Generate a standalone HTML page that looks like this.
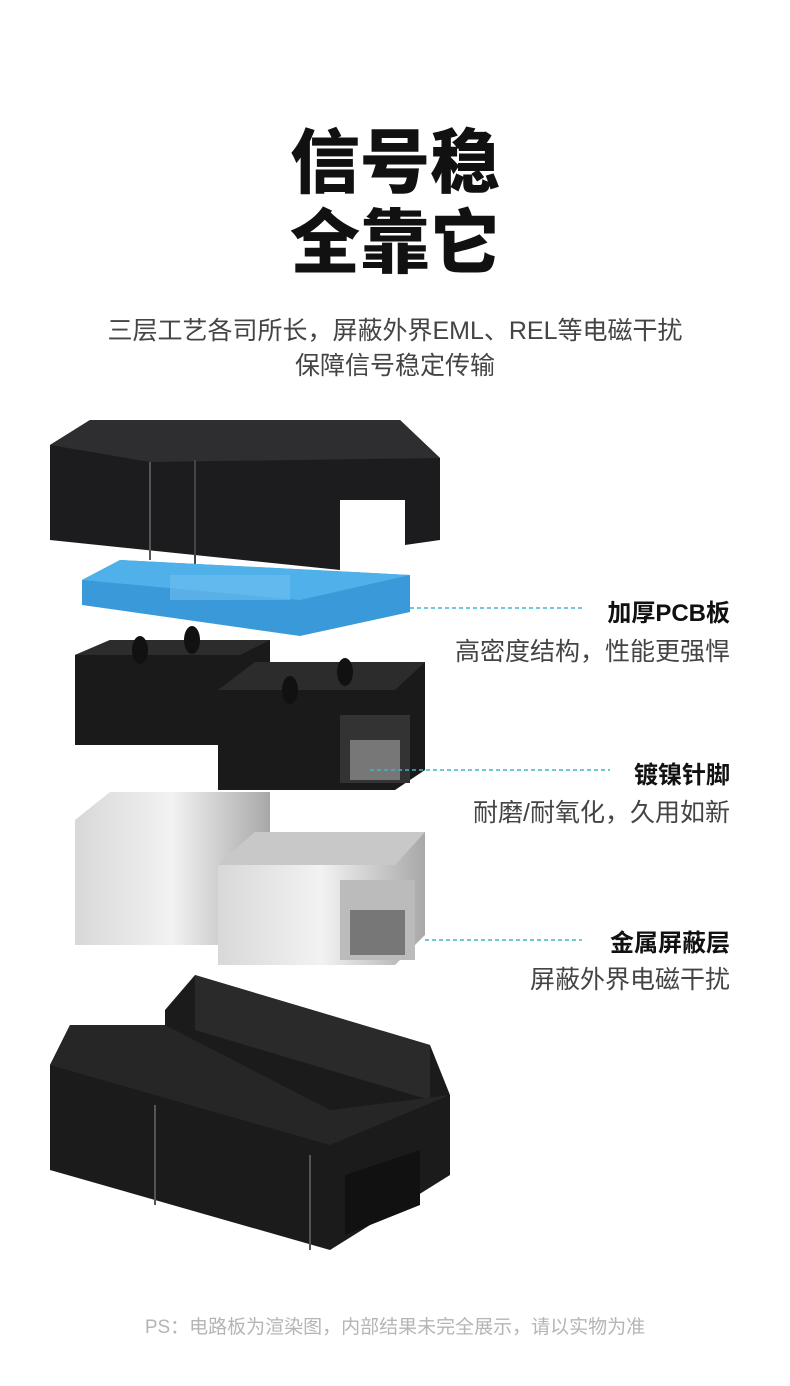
<!DOCTYPE html>
<html><head><meta charset="utf-8"><style>
html,body{margin:0;padding:0;background:#fff;}
body{width:790px;height:1386px;position:relative;overflow:hidden;font-family:"Liberation Sans","Noto Sans CJK SC",sans-serif;}
.t{position:absolute;left:0;width:790px;text-align:center;font-weight:900;font-size:70px;color:#111;line-height:1;}
.s{position:absolute;left:0;width:790px;text-align:center;font-size:25px;color:#444;}
.lb{position:absolute;right:60px;text-align:right;font-size:24px;color:#111;font-weight:bold;}
.ld{position:absolute;right:60px;text-align:right;font-size:25px;color:#444;}
svg{position:absolute;left:0;top:0;}
</style></head><body>
<div class="t" style="top:128px">信号稳</div>
<div class="t" style="top:208px">全靠它</div>
<div class="s" style="top:311px">三层工艺各司所长，屏蔽外界EML、REL等电磁干扰</div>
<div class="s" style="top:346px">保障信号稳定传输</div>

<svg width="790" height="1386" viewBox="0 0 790 1386">
<defs>
<linearGradient id="m" x1="0" x2="1"><stop offset="0" stop-color="#d8d8d8"/><stop offset="0.5" stop-color="#f2f2f2"/><stop offset="1" stop-color="#a8a8a8"/></linearGradient>
</defs>
<polygon points="50,445 90,420 400,420 440,458 440,540 405,545 405,500 340,500 340,570 50,540" fill="#1c1c1e"/>
<polygon points="50,445 90,420 400,420 440,458 150,462" fill="#2e2e30"/>
<line x1="150" y1="462" x2="150" y2="560" stroke="#555" stroke-width="2"/>
<line x1="195" y1="460" x2="195" y2="565" stroke="#444" stroke-width="2"/>
<polygon points="82,580 120,560 410,575 410,612 300,636 82,605" fill="#3a9ad9"/>
<polygon points="82,580 120,560 410,575 300,600" fill="#4fb0ea"/>
<rect x="170" y="575" width="120" height="25" fill="#6fc0ee" opacity="0.6"/>
<polygon points="75,655 110,640 270,640 270,730 240,745 75,745" fill="#1a1a1a"/>
<polygon points="75,655 110,640 270,640 240,655" fill="#2c2c2c"/>
<polygon points="218,690 255,662 425,662 425,770 395,790 218,790" fill="#1a1a1a"/>
<polygon points="218,690 255,662 425,662 395,690" fill="#2c2c2c"/>
<rect x="340" y="715" width="70" height="68" fill="#333"/>
<rect x="350" y="740" width="50" height="40" fill="#777"/>
<ellipse cx="140" cy="650" rx="8" ry="14" fill="#111"/><ellipse cx="192" cy="640" rx="8" ry="14" fill="#111"/>
<ellipse cx="290" cy="690" rx="8" ry="14" fill="#111"/><ellipse cx="345" cy="672" rx="8" ry="14" fill="#111"/>
<polygon points="75,820 110,792 270,792 270,900 225,945 75,945" fill="url(#m)"/>
<polygon points="218,865 255,832 425,832 425,935 395,965 218,965" fill="url(#m)"/>
<polygon points="218,865 255,832 425,832 395,865" fill="#c8c8c8"/>
<rect x="340" y="880" width="75" height="80" fill="#bbb"/>
<rect x="350" y="910" width="55" height="45" fill="#777"/>
<polygon points="50,1065 70,1025 165,1025 165,1010 195,975 430,1045 450,1095 450,1175 330,1250 50,1170" fill="#1b1b1b"/>
<polygon points="195,975 430,1045 430,1100 195,1030" fill="#2a2a2a"/>
<polygon points="70,1025 165,1025 330,1110 450,1095 330,1145 50,1065" fill="#262626"/>
<polygon points="345,1175 420,1150 420,1205 345,1235" fill="#111"/>
<line x1="155" y1="1105" x2="155" y2="1205" stroke="#555" stroke-width="2"/>
<line x1="310" y1="1155" x2="310" y2="1250" stroke="#555" stroke-width="2"/>
<g stroke="#3fb6c8" stroke-width="1.5" stroke-dasharray="4,3" fill="none">
<line x1="410" y1="608" x2="582" y2="608"/>
<line x1="370" y1="770" x2="610" y2="770"/>
<line x1="425" y1="940" x2="582" y2="940"/>
</g>
</svg>

<div class="lb" style="top:593px">加厚PCB板</div>
<div class="ld" style="top:632px">高密度结构，性能更强悍</div>
<div class="lb" style="top:755px">镀镍针脚</div>
<div class="ld" style="top:793px">耐磨/耐氧化，久用如新</div>
<div class="lb" style="top:923px">金属屏蔽层</div>
<div class="ld" style="top:960px">屏蔽外界电磁干扰</div>
<div class="s" style="top:1312px;font-size:19px;color:#b5b5b5">PS：电路板为渲染图，内部结果未完全展示，请以实物为准</div>
</body></html>
